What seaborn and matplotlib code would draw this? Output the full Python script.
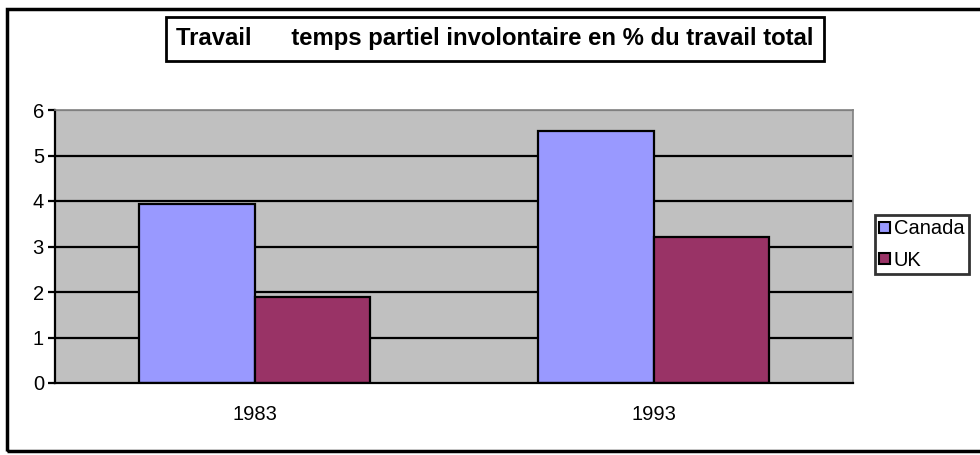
import matplotlib
matplotlib.use("Agg")
import matplotlib.pyplot as plt
from matplotlib.patches import Rectangle, Patch
import seaborn as sns
import pandas as pd

years = ["1983", "1993"]
countries = ["Canada", "UK"]
canada = [3.93, 5.53]
uk = [1.9, 3.2]
yticks = [0, 1, 2, 3, 4, 5, 6]
title = "Travail      temps partiel involontaire en % du travail total"
colors = {"Canada": "#9999FF", "UK": "#993366"}

df = pd.DataFrame({
    "year": years * 2,
    "country": ["Canada"] * len(years) + ["UK"] * len(years),
    "value": canada + uk,
})

sns.set_style("white")
plt.rcParams["font.family"] = ["Liberation Sans", "DejaVu Sans"]
plt.rcParams["text.color"] = "black"
plt.rcParams["xtick.color"] = "black"
plt.rcParams["ytick.color"] = "black"

W, H = 980, 455
fig = plt.figure(figsize=(W / 100, H / 100), dpi=100)
fig.patch.set_facecolor("white")

ax = fig.add_axes([55 / W, 1 - 383 / H, (853 - 55) / W, (383 - 110) / H])
ax.set_facecolor("#C0C0C0")
ax.set_axisbelow(True)
for y in yticks[1:-1]:
    ax.axhline(y, color="black", lw=1.6, zorder=0.5)
ax.axhline(6, color="#808080", lw=1.6, zorder=0.5)

sns.barplot(data=df, x="year", y="value", hue="country", order=years,
            hue_order=countries, palette=colors, width=0.577, dodge=True,
            edgecolor="black", linewidth=1.6, saturation=1, ax=ax, legend=False,
            zorder=2)

ax.set_xlim(-0.5, 1.5)
ax.set_ylim(0, 6)
ax.set_yticks(yticks)
ax.set_yticklabels([str(t) for t in yticks], fontsize=14.5, color="black")
ax.set_xticks([0, 1])
ax.set_xticklabels(years, fontsize=14.5, color="black")
ax.set_xticks([-0.5, 0.5, 1.5], minor=True)
ax.tick_params(axis="x", which="major", length=0, pad=16)
ax.tick_params(axis="x", which="minor", length=5, width=1.6, direction="out", color="black")
ax.tick_params(axis="y", length=5, width=1.6, direction="out", color="black", pad=3, left=True)
ax.set_xlabel("")
ax.set_ylabel("")
for s in ["left", "bottom"]:
    ax.spines[s].set_color("black")
    ax.spines[s].set_linewidth(1.6)
for s in ["top", "right"]:
    ax.spines[s].set_color("#808080")
    ax.spines[s].set_linewidth(1.2)

# outer chart border
fig.patches.append(Rectangle((7 / W, 1 - 451 / H), 1.2, (451 - 9) / H,
                             transform=fig.transFigure, fill=False,
                             edgecolor="black", lw=2.5, zorder=0))

# title box
fig.text(495 / W, 1 - 39 / H, title, ha="center", va="center",
         fontsize=17.2, fontweight="bold", color="black",
         bbox=dict(boxstyle="square,pad=0.42", facecolor="white",
                   edgecolor="black", lw=2))

handles = [Patch(facecolor=colors[c], edgecolor="black", lw=1.5) for c in countries]
leg = fig.legend(handles, countries, loc="upper left",
                 bbox_to_anchor=(875 / W, 1 - 215 / H), fontsize=14.5,
                 frameon=True, fancybox=False, shadow=False,
                 handlelength=0.5, handleheight=0.5, handletextpad=0.2,
                 borderpad=0.22, labelspacing=0.6, borderaxespad=0)
leg.get_frame().set_edgecolor("black")
leg.get_frame().set_linewidth(2)

fig.savefig("out.png", dpi=100, facecolor="white")
